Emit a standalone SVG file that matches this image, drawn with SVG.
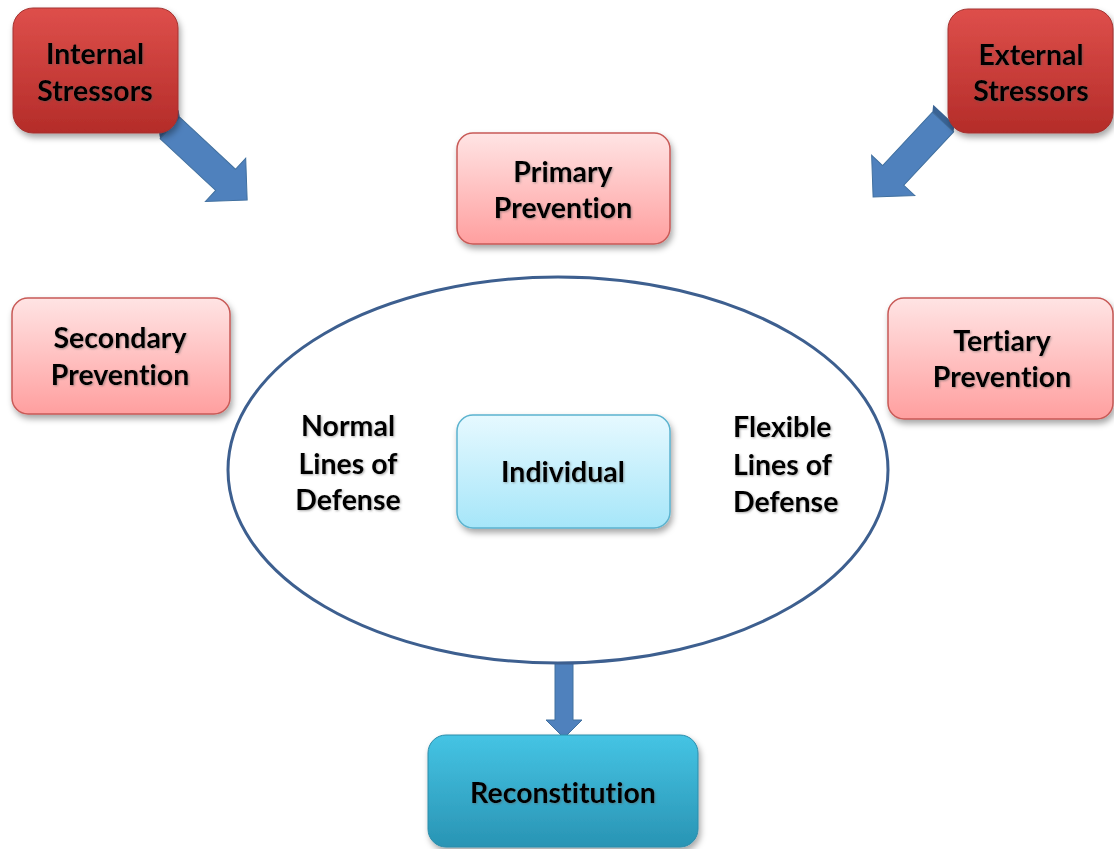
<svg xmlns="http://www.w3.org/2000/svg" width="1114" height="849" viewBox="0 0 1114 849">
<defs>
<linearGradient id="gRed" x1="0" y1="0" x2="0" y2="1"><stop offset="0" stop-color="#de4f4b"/><stop offset="1" stop-color="#b42c29"/></linearGradient>
<linearGradient id="gPink" x1="0" y1="0" x2="0" y2="1"><stop offset="0" stop-color="#ffe4e4"/><stop offset="1" stop-color="#ff9f9f"/></linearGradient>
<linearGradient id="gLight" x1="0" y1="0" x2="0" y2="1"><stop offset="0" stop-color="#e6f9ff"/><stop offset="1" stop-color="#a6e6f9"/></linearGradient>
<linearGradient id="gTeal" x1="0" y1="0" x2="0" y2="1"><stop offset="0" stop-color="#45c4e4"/><stop offset="1" stop-color="#2994b4"/></linearGradient>
<filter id="sh" x="-20%" y="-20%" width="140%" height="150%"><feDropShadow dx="2" dy="4" stdDeviation="3" flood-color="#000" flood-opacity="0.35"/></filter>
<filter id="tsh" x="-10%" y="-20%" width="120%" height="150%"><feDropShadow dx="1" dy="1" stdDeviation="0.8" flood-color="#555" flood-opacity="0.5"/></filter>
</defs>
<style>
text{font-family:Lato,"Open Sans","Liberation Sans",sans-serif;font-weight:700;font-size:28.5px;fill:#000;text-anchor:middle;font-variant-ligatures:none;font-feature-settings:"liga" 0;filter:url(#tsh)}
.red{fill:url(#gRed);stroke:#a33230;stroke-width:1;filter:url(#sh)}
.pink{fill:url(#gPink);stroke:#c85a57;stroke-width:1.5;filter:url(#sh)}
.light{fill:url(#gLight);stroke:#5bb3cf;stroke-width:1.5;filter:url(#sh)}
.teal{fill:url(#gTeal);stroke:#2c8caa;stroke-width:1;filter:url(#sh)}
.arr{fill:#4f81bd;stroke:#41709f;stroke-width:1}
.arrd{fill:#3a6394}
.ell{fill:#fff;stroke:#3d5f8f;stroke-width:3}
</style>
<rect width="1114" height="849" fill="#fff"/>
<g id="connectors">
<g transform="translate(170,128) rotate(43)">
<path class="arr" d="M0,-14.5 L76,-14.5 L76,-29.5 L105.5,0 L76,29.5 L76,14.5 L0,14.5 Z"/>
<path class="arrd" d="M-6,-19 L0,-14.5 L0,14.5 L-6,10 Z"/>
</g>
<g transform="translate(943,122) rotate(133)">
<path class="arr" d="M0,-14.5 L73,-14.5 L73,-29.5 L102.5,0 L73,29.5 L73,14.5 L0,14.5 Z"/>
<path class="arrd" d="M-6,-10 L0,-14.5 L0,14.5 L-6,19 Z"/>
</g>
<path class="arr" d="M555,655 L573,655 L573,720 L582,720 L564,738 L546,720 L555,720 Z"/>
</g>
<g id="ellipse"><ellipse class="ell" cx="558" cy="470" rx="330" ry="193"/></g>
<g id="internal-stressors"><rect class="red" x="13" y="8" width="165" height="125" rx="20"/><text x="95" y="64">Internal</text><text x="95" y="101">Stressors</text></g>
<g id="external-stressors"><rect class="red" x="948" y="9" width="165" height="124" rx="20"/><text x="1031" y="65">External</text><text x="1031" y="101">Stressors</text></g>
<g id="primary-prevention"><rect class="pink" x="457" y="133" width="213" height="111" rx="16"/><text x="563" y="182">Primary</text><text x="563" y="218">Prevention</text></g>
<g id="secondary-prevention"><rect class="pink" x="12" y="298" width="218" height="116" rx="16"/><text x="120" y="348">Secondary</text><text x="120" y="385">Prevention</text></g>
<g id="tertiary-prevention"><rect class="pink" x="888" y="298" width="225" height="121" rx="16"/><text x="1002" y="351">Tertiary</text><text x="1002" y="387">Prevention</text></g>
<g id="individual"><rect class="light" x="457" y="415" width="213" height="113" rx="16"/><text x="563" y="482">Individual</text></g>
<g id="normal-lines"><text x="348" y="436">Normal</text><text x="348" y="474">Lines of</text><text x="348" y="510">Defense</text></g>
<g id="flexible-lines"><text x="733" y="437" style="text-anchor:start">Flexible</text><text x="733" y="475" style="text-anchor:start">Lines of</text><text x="733" y="512" style="text-anchor:start">Defense</text></g>
<g id="reconstitution"><rect class="teal" x="428" y="735" width="270" height="112" rx="18"/><text x="563" y="803">Reconstitution</text></g>
</svg>
